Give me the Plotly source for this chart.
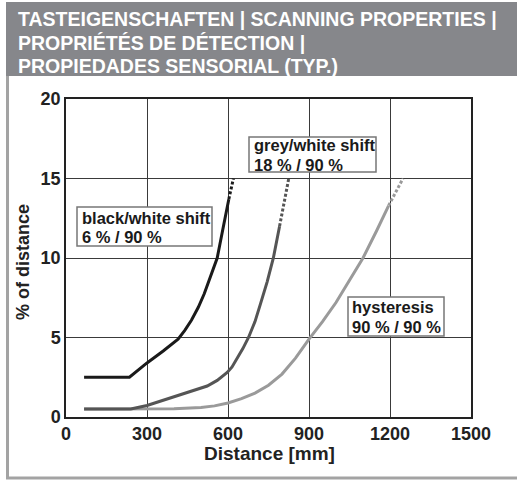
import plotly.graph_objects as go

# ---- data ----
bw_x = [67, 235, 300, 360, 415, 440, 465, 490, 512, 535, 560, 582, 603]
bw_y = [2.5, 2.5, 3.4, 4.15, 4.9, 5.45, 6.1, 6.9, 7.75, 8.8, 10.0, 11.9, 13.7]
bw_dash_x = [603, 620]
bw_dash_y = [13.7, 15.0]

gw_x = [67, 240, 300, 360, 420, 470, 523, 560, 597, 615, 635, 655, 676, 700, 720, 745, 768, 791]
gw_y = [0.5, 0.5, 0.72, 1.05, 1.4, 1.65, 1.95, 2.3, 2.8, 3.15, 3.7, 4.3, 5.0, 6.0, 7.1, 8.5, 10.0, 12.0]
gw_dash_x = [791, 808, 825]
gw_dash_y = [12.0, 13.5, 15.0]

hy_x = [67, 300, 400, 500, 550, 600, 650, 700, 750, 800, 850, 900, 950, 1000, 1050, 1100, 1150, 1195]
hy_y = [0.5, 0.5, 0.52, 0.6, 0.7, 0.88, 1.15, 1.5, 2.0, 2.7, 3.7, 4.9, 6.0, 7.2, 8.6, 10.0, 11.7, 13.3]
hy_dash_x = [1195, 1248]
hy_dash_y = [13.3, 15.0]

x_ticks = [0, 300, 600, 900, 1200, 1500]
y_ticks = [0, 5, 10, 15, 20]

header_lines = ["TASTEIGENSCHAFTEN | SCANNING PROPERTIES |",
                "PROPRIÉTÉS DE DÉTECTION |",
                "PROPIEDADES SENSORIAL (TYP.)"]

label_lines = [["black/white shift", "6 % / 90 %"],
               ["grey/white shift", "18 % / 90 %"],
               ["hysteresis", "90 % / 90 %"]]

FONT = "Arial, Liberation Sans, sans-serif"

fig = go.Figure()

def add_curve(x, y, color, dash):
    fig.add_trace(go.Scatter(x=x, y=y, mode="lines",
                             line=dict(color=color, width=3, dash=dash),
                             hoverinfo="skip", showlegend=False))

add_curve(hy_x, hy_y, "#9a9a9a", "solid")
add_curve(hy_dash_x, hy_dash_y, "#9a9a9a", "3px,2px")
add_curve(gw_x, gw_y, "#555555", "solid")
add_curve(gw_dash_x, gw_dash_y, "#555555", "3px,2px")
add_curve(bw_x, bw_y, "#1a1a1a", "solid")
add_curve(bw_dash_x, bw_dash_y, "#1a1a1a", "3px,2px")

L, R, T, B = 66, 46, 99, 64
W, H = 517, 481
pw, ph = W - L - R, H - T - B

def px(p):
    return (p - L) / pw

def py(p):
    return (H - B - p) / ph

shapes = [
    dict(type="rect", xref="paper", yref="paper", x0=px(6), x1=px(520), y0=py(76), y1=py(2),
         fillcolor="#86878b", line=dict(width=0), layer="below"),
    dict(type="line", xref="paper", yref="paper", x0=px(7.5), x1=px(7.5), y0=py(76), y1=py(478.5),
         line=dict(color="#a3a3a3", width=3)),
    dict(type="line", xref="paper", yref="paper", x0=px(6), x1=px(520), y0=py(478), y1=py(478),
         line=dict(color="#a3a3a3", width=3)),
]

# label boxes (pixel layout: left, right, top, bottom, text-left, line centres)
box_layout = [(77, 212, 207, 246, 81, (218, 237)),
              (249, 376, 137, 172, 253, (145, 164.5)),
              (348, 444, 297, 336, 351, (307, 327))]

annotations = []
for txt, yc in zip(header_lines, [19, 42.5, 65.5]):
    annotations.append(dict(text="<b>" + txt + "</b>", xref="paper", yref="paper",
                            x=px(16), y=py(yc), xanchor="left", yanchor="middle",
                            showarrow=False, font=dict(family=FONT, size=19.5, color="white")))

for lines, (x0, x1, y0, y1, tx, ycs) in zip(label_lines, box_layout):
    shapes.append(dict(type="rect", xref="paper", yref="paper",
                       x0=px(x0), x1=px(x1), y0=py(y1), y1=py(y0),
                       fillcolor="white", line=dict(color="#777777", width=1.5), layer="above"))
    for txt, yc in zip(lines, ycs):
        annotations.append(dict(text="<b>" + txt + "</b>", xref="paper", yref="paper",
                                x=px(tx), y=py(yc), xanchor="left", yanchor="middle",
                                showarrow=False, borderpad=0,
                                font=dict(family=FONT, size=16.5, color="#1a1a1a")))

annotations.append(dict(text="<b>Distance [mm]</b>", xref="paper", yref="paper",
                        x=px(269), y=py(453), xanchor="center", yanchor="middle", showarrow=False,
                        font=dict(family=FONT, size=19, color="#222222")))
annotations.append(dict(text="<b>% of distance</b>", xref="paper", yref="paper",
                        x=px(23), y=py(262), xanchor="center", yanchor="middle", showarrow=False,
                        textangle=-90, font=dict(family=FONT, size=18, color="#222222")))

fig.update_layout(
    template="none",
    width=W, height=H,
    margin=dict(l=L, r=R, t=T, b=B, autoexpand=False),
    paper_bgcolor="white", plot_bgcolor="white",
    shapes=shapes, annotations=annotations, showlegend=False,
    font=dict(family=FONT),
)
fig.update_xaxes(range=[0, 1500], tickvals=x_ticks, ticktext=["<b>%d</b>" % v for v in x_ticks],
                 showgrid=True, gridcolor="#3a3a3a", gridwidth=1, automargin=False,
                 showline=True, linecolor="#222222", linewidth=1.5, mirror=True,
                 zeroline=False, ticks="", tickfont=dict(family=FONT, size=18, color="#222222"))
fig.update_yaxes(range=[0, 20], tickvals=y_ticks, ticktext=["<b>%d</b>" % v for v in y_ticks],
                 showgrid=True, gridcolor="#3a3a3a", gridwidth=1, automargin=False,
                 showline=True, linecolor="#222222", linewidth=1.5, mirror=True,
                 zeroline=False, ticks="", tickfont=dict(family=FONT, size=18, color="#222222"))

fig.write_html("out.html", config={"displayModeBar": False},
               post_script="document.body.style.margin='0px';")
